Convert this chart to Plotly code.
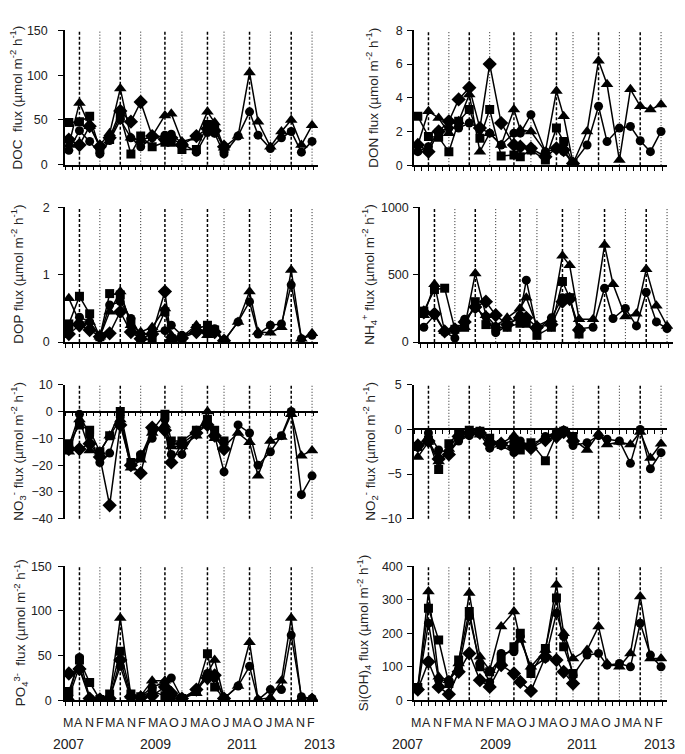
import plotly.graph_objects as go

W, H = 685, 754

# sampling campaigns (decimal year)
sample_dates = [2007.09, 2007.34, 2007.58, 2007.82, 2008.05, 2008.30, 2008.55, 2008.78,
                2009.05, 2009.35, 2009.50, 2009.75, 2010.09, 2010.35, 2010.52, 2010.74,
                2011.07, 2011.34, 2011.54, 2011.83, 2012.09, 2012.32, 2012.56, 2012.81]
month_letters = list("MANFMANFMAOJMAOJMAOJMANF")
spring_idx = [1, 5, 9, 13, 17, 21]
autumn_idx = [3, 7, 11, 15, 19, 23]
year_labels = ["2007", "2009", "2011", "2013"]

# DOC
doc_circ = [16, 38, 26, 12, 27, 50, 30, 20, 30, 33, 34, 24, 14, 36, 35, 12, 32, 59, 33, 18, 30, 37, 14, 26]
doc_sq = [47, 48, 54, 17, 28, 55, 12, 32, 20, 25, 25, 17, 17, 45, 40, 18]
doc_dia = [28, 22, 43, 20, 30, 60, 48, 70, 32, 28, 30, 22, 32, 40, 38, 20]
doc_tri = [22, 69, 43, 22, 35, 85, 30, 27, 32, 55, 57, 26, 30, 59, 47, 19, 32, 103, 48, 20, 37, 50, 22, 44]
# DON
don_circ = [0.8, 1.1, 2.0, 2.2, 2.2, 2.5, 2.2, 1.9, 1.2, 1.9, 1.9, 3.0, 0.8, 0.95, 0.8, 0.1, 1.2, 3.5, 1.4, 2.2, 2.3, 1.45, 0.8, 2.0]
don_sq = [2.9, 1.7, 1.65, 0.8, 2.6, 3.3, 1.6, 3.3, 0.55, 0.6, 0.5, 0.9, 0.3, 2.2, 1.4, 0.1]
don_dia = [1.2, 0.8, 2.0, 2.6, 3.9, 4.6, 2.2, 6.0, 2.5, 1.2, 1.1, 1.0, 0.5, 1.0, 0.9, 0.1]
don_tri = [1.2, 3.2, 2.8, 1.9, 2.6, 4.2, 0.8, 1.9, 1.2, 3.3, 2.1, 2.0, 0.8, 4.4, 2.9, 0.1, 2.0, 6.2, 4.8, 0.3, 4.5, 3.5, 3.3, 3.6]
# DOP
dop_circ = [0.2, 0.37, 0.3, 0.08, 0.55, 0.6, 0.35, 0.1, 0.15, 0.17, 0.25, 0.1, 0.15, 0.2, 0.2, 0.02, 0.3, 0.6, 0.12, 0.25, 0.27, 0.85, 0.05, 0.1]
dop_sq = [0.27, 0.68, 0.42, 0.08, 0.72, 0.7, 0.3, 0.02, 0.05, 0.45, 0.05, 0.07, 0.2, 0.25, 0.18, 0.02]
dop_dia = [0.12, 0.25, 0.18, 0.08, 0.13, 0.45, 0.15, 0.05, 0.12, 0.75, 0.02, 0.06, 0.15, 0.15, 0.15, 0.02]
dop_tri = [0.65, 0.3, 0.3, 0.08, 0.45, 0.75, 0.25, 0.15, 0.22, 0.5, 0.1, 0.08, 0.25, 0.1, 0.15, 0.02, 0.3, 0.75, 0.15, 0.14, 0.22, 1.07, 0.05, 0.13]
# NH4
nh4_circ = [110, 200, 75, 30, 170, 250, 190, 70, 120, 200, 460, 90, 180, 330, 330, 100, 110, 400, 175, 250, 120, 370, 150, 100]
nh4_sq = [230, 390, 400, 95, 110, 300, 130, 110, 110, 140, 140, 50, 110, 450, 330, 60]
nh4_dia = [220, 210, 80, 95, 150, 260, 300, 200, 130, 180, 180, 110, 130, 300, 320, 90]
nh4_tri = [200, 430, 80, 100, 110, 510, 200, 120, 180, 250, 330, 120, 170, 640, 570, 170, 170, 720, 430, 190, 210, 540, 270, 120]
# NO3
no3_circ = [-13, -1, -9, -19, -15.5, -2, -20, -16, -10, -3, -16, -16, -7, -5, -9, -22.5, -5, -8, -20, -15, -9, 0, -31, -24]
no3_sq = [-12, -5, -7, -15, -9, 0, -19, -17, -7, -1, -11, -11, -7, -3, -7, -11]
no3_dia = [-14, -14, -12, -17, -35, -5, -20, -23, -6, -7, -19, -12, -8, -5, -9, -14]
no3_tri = [-15, -3, -14.5, -15, -9, -3, -21, -18, -8, -5, -13, -13, -9, 0, -10, -13, -8, -11.5, -24, -11, -9.5, -1, -16.5, -14.5]
# NO2
no2_circ = [-2.0, -0.4, -2.3, -2.6, -1.3, -0.7, -0.5, -2.1, -1.8, -2.6, -1.3, -2.0, -0.8, -0.3, -0.1, -1.8, -1.5, -0.7, -1.1, -1.3, -3.8, 0, -4.4, -2.6]
no2_sq = [-1.9, -1.2, -4.5, -1.6, -0.4, -0.1, -0.2, -1.0, -1.7, -1.2, -2.3, -1.5, -3.5, -0.6, -0.2, -0.8]
no2_dia = [-1.8, -1.3, -3.3, -2.8, -0.8, -0.4, -0.4, -1.6, -1.6, -2.0, -1.9, -2.1, -1.2, -0.8, -0.3, -1.3]
no2_tri = [-3.1, -1.4, -3.6, -2.2, -0.5, -0.3, -0.6, -1.3, -1.6, -0.7, -1.5, -1.6, -1.0, -0.4, -0.3, -1.1, -2.3, -0.5, -1.7, -1.4, -1.7, -0.3, -3.2, -1.6]
# PO4
po4_circ = [5, 48, 2, 1, 3, 38, 2, 4, 15, 20, 25, 2, 12, 30, 25, 2, 16, 38, 0.5, 12, 12, 73, 4, 2]
po4_sq = [10, 45, 20, 1, 7, 55, 7, 4, 10, 5, 5, 2, 10, 52, 15, 2]
po4_dia = [30, 35, 2, 1, 2, 45, 4, 3, 5, 15, 8, 2, 12, 25, 28, 2]
po4_tri = [3, 38, 3, 1, 3, 92, 5, 5, 22, 22, 10, 2, 8, 30, 45, 2, 16, 65, 1, 3, 22, 92, 2, 3]
# Si(OH)4
si_circ = [35, 230, 60, 60, 95, 250, 110, 55, 140, 145, 190, 95, 125, 260, 190, 75, 135, 140, 105, 110, 100, 230, 135, 100]
si_sq = [38, 275, 180, 50, 120, 265, 100, 85, 125, 160, 200, 80, 155, 305, 160, 80]
si_dia = [32, 115, 40, 18, 85, 140, 60, 40, 105, 80, 55, 28, 130, 120, 85, 50]
si_tri = [38, 325, 70, 60, 110, 320, 130, 90, 220, 265, 180, 100, 150, 345, 200, 125, 150, 220, 110, 100, 140, 310, 125, 125]

UNIT = " flux (µmol m<sup>-2</sup> h<sup>-1</sup>)"

# panel geometry in pixels: x0, x1, top, bottom, title x, label standoff
panels = [
    dict(series=(doc_circ, doc_sq, doc_dia, doc_tri), rng=[0, 150], ticks=[0, 50, 100, 150],
         title="DOC " + UNIT, x0=57, x1=310, top=15.7, bot=152.5, tx=8, so=8),
    dict(series=(don_circ, don_sq, don_dia, don_tri), rng=[0, 8], ticks=[0, 2, 4, 6, 8],
         title="DON" + UNIT, x0=406, x1=659, top=15.7, bot=153, tx=364, so=2),
    dict(series=(dop_circ, dop_sq, dop_dia, dop_tri), rng=[0, 2], ticks=[0, 1, 2],
         title="DOP" + UNIT, x0=57, x1=310, top=196, bot=333.3, tx=9, so=6),
    dict(series=(nh4_circ, nh4_sq, nh4_dia, nh4_tri), rng=[0, 1000], ticks=[0, 500, 1000],
         title="NH<sub>4</sub><sup>+</sup>" + UNIT, x0=412, x1=665, top=196, bot=333.3, tx=361, so=2),
    dict(series=(no3_circ, no3_sq, no3_dia, no3_tri), rng=[-40, 10], ticks=list(range(-40, 11, 10)),
         title="NO<sub>3</sub><sup>-</sup>" + UNIT, x0=57, x1=310, top=376.7, bot=513.3, tx=10, so=3),
    dict(series=(no2_circ, no2_sq, no2_dia, no2_tri), rng=[-10, 5], ticks=[-10, -5, 0, 5],
         title="NO<sub>2</sub><sup>-</sup>" + UNIT, x0=406, x1=659, top=376.7, bot=513.3, tx=362, so=3),
    dict(series=(po4_circ, po4_sq, po4_dia, po4_tri), rng=[0, 150], ticks=[0, 50, 100, 150],
         title="PO<sub>4</sub><sup>3-</sup> " + UNIT, x0=57, x1=310, top=561.7, bot=698.3, tx=13, so=4),
    dict(series=(si_circ, si_sq, si_dia, si_tri), rng=[0, 400], ticks=[0, 100, 200, 300, 400],
         title="Si(OH)<sub>4</sub>" + UNIT, x0=406, x1=659, top=561.7, bot=698.3, tx=356, so=2),
]

symbols = ["circle", "square", "diamond", "triangle-up"]
sizes = [9, 9, 11, 11]
FONT = "Liberation Sans, Arial, sans-serif"
TXT = "#222222"

fig = go.Figure()
shapes, annotations = [], []

for k, p in enumerate(panels, start=1):
    sfx = "" if k == 1 else str(k)
    xa, ya = "x" + sfx, "y" + sfx
    for vals, sym, sz in zip(p["series"], symbols, sizes):
        fig.add_trace(go.Scatter(
            x=sample_dates[:len(vals)], y=vals, xaxis=xa, yaxis=ya,
            mode="lines+markers", line=dict(color="black", width=1.5),
            marker=dict(symbol=sym, size=sz, color="black"), showlegend=False))

    ydom = [1 - p["bot"] / H, 1 - p["top"] / H]
    lo, hi = p["rng"]
    xax = dict(domain=[p["x0"] / W, p["x1"] / W], range=[2007.0, 2012.95],
               showline=True, linecolor="black", linewidth=1.5,
               ticks="outside", ticklen=4, tickwidth=1, tickcolor="black",
               tick0=2007, dtick=1 / 6, showticklabels=False,
               showgrid=False, zeroline=False)
    if lo < 0:
        zero_px = p["top"] + hi / (hi - lo) * (p["bot"] - p["top"])
        xax.update(anchor="free", position=1 - zero_px / H)
    else:
        xax.update(anchor=ya)
    yax = dict(domain=ydom, range=[lo, hi], anchor=xa, tickvals=p["ticks"],
               showline=True, linecolor="black", linewidth=1.5,
               ticks="outside", ticklen=5, tickwidth=1, tickcolor="black",
               ticklabelstandoff=p["so"],
               tickfont=dict(family=FONT, size=12.5, color=TXT),
               showgrid=False, zeroline=False)
    fig.update_layout({"xaxis" + sfx: xax, "yaxis" + sfx: yax})

    for i in spring_idx:
        shapes.append(dict(type="line", xref=xa, yref=ya + " domain",
                           x0=sample_dates[i], x1=sample_dates[i], y0=0, y1=1,
                           line=dict(color="black", width=1.5, dash="3px,2px"), layer="below"))
    for i in autumn_idx:
        shapes.append(dict(type="line", xref=xa, yref=ya + " domain",
                           x0=sample_dates[i], x1=sample_dates[i], y0=0, y1=1,
                           line=dict(color="#222222", width=1, dash="1px,2px"), layer="below"))

    annotations.append(dict(text=p["title"], textangle=-90, xref="paper", yref="paper",
                            x=p["tx"] / W, y=1 - (p["top"] + p["bot"]) / 2 / H,
                            xanchor="center", yanchor="middle", showarrow=False,
                            font=dict(family=FONT, size=13.5, color=TXT)))

# campaign month letters, evenly spaced under each bottom panel
n = len(month_letters)
for first, last in [(60, 303), (408, 651)]:
    step = (last - first) / (n - 1)
    for j, m in enumerate(month_letters):
        annotations.append(dict(text=m, xref="paper", yref="paper",
                                x=(first + j * step) / W, y=1 - 721 / H,
                                xanchor="center", yanchor="middle", showarrow=False,
                                font=dict(family=FONT, size=12.5, color=TXT)))

for off in (0, 340):
    for cx, lab in zip([60, 147, 234, 311], year_labels):
        annotations.append(dict(text=lab, xref="paper", yref="paper", x=(cx + off) / W,
                                y=1 - 743 / H, xanchor="center", yanchor="middle",
                                showarrow=False, font=dict(family=FONT, size=14, color=TXT)))

fig.update_layout(width=W, height=H, margin=dict(l=0, r=0, t=0, b=0),
                  paper_bgcolor="white", plot_bgcolor="white",
                  shapes=shapes, annotations=annotations, showlegend=False)

fig.write_html("out.html")
